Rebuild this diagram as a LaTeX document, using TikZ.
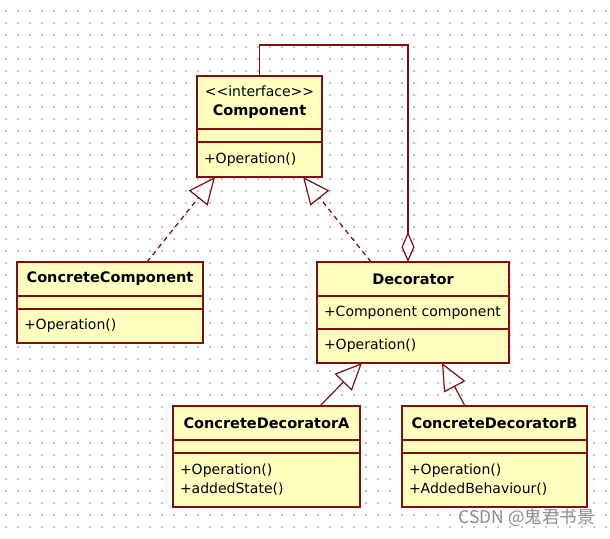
\documentclass[tikz,border=0pt]{standalone}
\usepackage{fontspec}
\setmainfont{DejaVu Sans}
\newfontfamily\cjkfont{Noto Sans CJK SC}
\usetikzlibrary{positioning,arrows.meta}

\definecolor{umlred}{RGB}{128,16,16}
\definecolor{umlyellow}{RGB}{255,255,192}
\definecolor{griddot}{RGB}{200,192,212}
\newcommand{\namefont}{\bfseries\fontsize{14.5}{19}\selectfont}
\newcommand{\bodyfont}{\fontsize{14}{19}\selectfont}

\tikzset{
  classbox/.style={draw=umlred, fill=umlyellow, line width=1.2pt, outer sep=0pt, inner xsep=7pt, inner ysep=0pt},
  classname/.style={classbox, align=center, font=\namefont},
  classbody/.style={classbox, align=left, font=\bodyfont},
  realize/.style={draw=umlred, line width=1.2pt, dash pattern=on 5pt off 4pt, -{Triangle[open, length=27pt, width=24pt]}},
  inherit/.style={draw=umlred, line width=1.2pt, -{Triangle[open, length=27pt, width=24pt]}},
  aggr/.style={draw=umlred, line width=1.2pt, {Diamond[open, length=30pt, width=13pt]}-}
}

\begin{document}
\begin{tikzpicture}[x=1pt,y=-1pt]
   \path[fill=white,use as bounding box] (0,0) rectangle (610,538);
   \foreach \i in {0,...,50} {
     \foreach \j in {0,...,43} {
       \fill[griddot] (5+12*\i,10+12*\j) rectangle ++(1.5,1.5);
     }
   }

   % Component
   \node (comp-name) at (259.5,102.5) [classname, text width=111pt, minimum height=53pt] {{\mdseries\fontsize{14}{19}\selectfont <\kern0pt<interface>\kern0pt>}\\Component};
   \node (comp-attr) [classbody, text width=111pt, minimum height=13pt, below=0pt of comp-name] {};
   \node (comp-ops) [classbody, text width=111pt, minimum height=35pt, below=0pt of comp-attr] {+Operation()};

   % ConcreteComponent
   \node (cc-name) at (110,279) [classname, text width=172pt, minimum height=34pt] {ConcreteComponent};
   \node (cc-attr) [classbody, text width=172pt, minimum height=13pt, below=0pt of cc-name] {};
   \node (cc-ops) [classbody, text width=172pt, minimum height=34pt, below=0pt of cc-attr] {+Operation()};

   % Decorator
   \node (dec-name) at (413,279) [classname, text width=178pt, minimum height=34pt] {Decorator};
   \node (dec-attr) [classbody, text width=178pt, minimum height=33pt, below=0pt of dec-name] {+Component component};
   \node (dec-ops) [classbody, text width=178pt, minimum height=34pt, below=0pt of dec-attr] {+Operation()};

   % ConcreteDecoratorA
   \node (cda-name) at (266.5,423) [classname, text width=173pt, minimum height=34pt] {ConcreteDecoratorA};
   \node (cda-attr) [classbody, text width=173pt, minimum height=13pt, below=0pt of cda-name] {};
   \node (cda-ops) [classbody, text width=173pt, minimum height=54pt, below=0pt of cda-attr] {+Operation()\\+addedState()};

   % ConcreteDecoratorB
   \node (cdb-name) at (494.5,423) [classname, text width=171pt, minimum height=34pt] {ConcreteDecoratorB};
   \node (cdb-attr) [classbody, text width=171pt, minimum height=13pt, below=0pt of cdb-name] {};
   \node (cdb-ops) [classbody, text width=171pt, minimum height=54pt, below=0pt of cdb-attr] {+Operation()\\+AddedBehaviour()};

   \draw[realize] ([xshift=37pt]cc-name.north) -- ([xshift=-44.5pt]comp-ops.south);
   \draw[realize] ([xshift=-42pt]dec-name.north) -- ([xshift=43.5pt]comp-ops.south);
   \draw[aggr] ([xshift=-5pt]dec-name.north) |- ([yshift=31pt]comp-name.north) -- (comp-name.north);
   \draw[inherit] ([xshift=53.5pt]cda-name.north) -- ([xshift=-51pt]dec-ops.south);
   \draw[inherit] ([xshift=-29.5pt]cdb-name.north) -- ([xshift=29pt]dec-ops.south);

   \node (mark) at (526.5,518) [font=\cjkfont\fontsize{17.5}{18}\selectfont, text=black!45] {CSDN @鬼君书景};
\end{tikzpicture}
\end{document}
